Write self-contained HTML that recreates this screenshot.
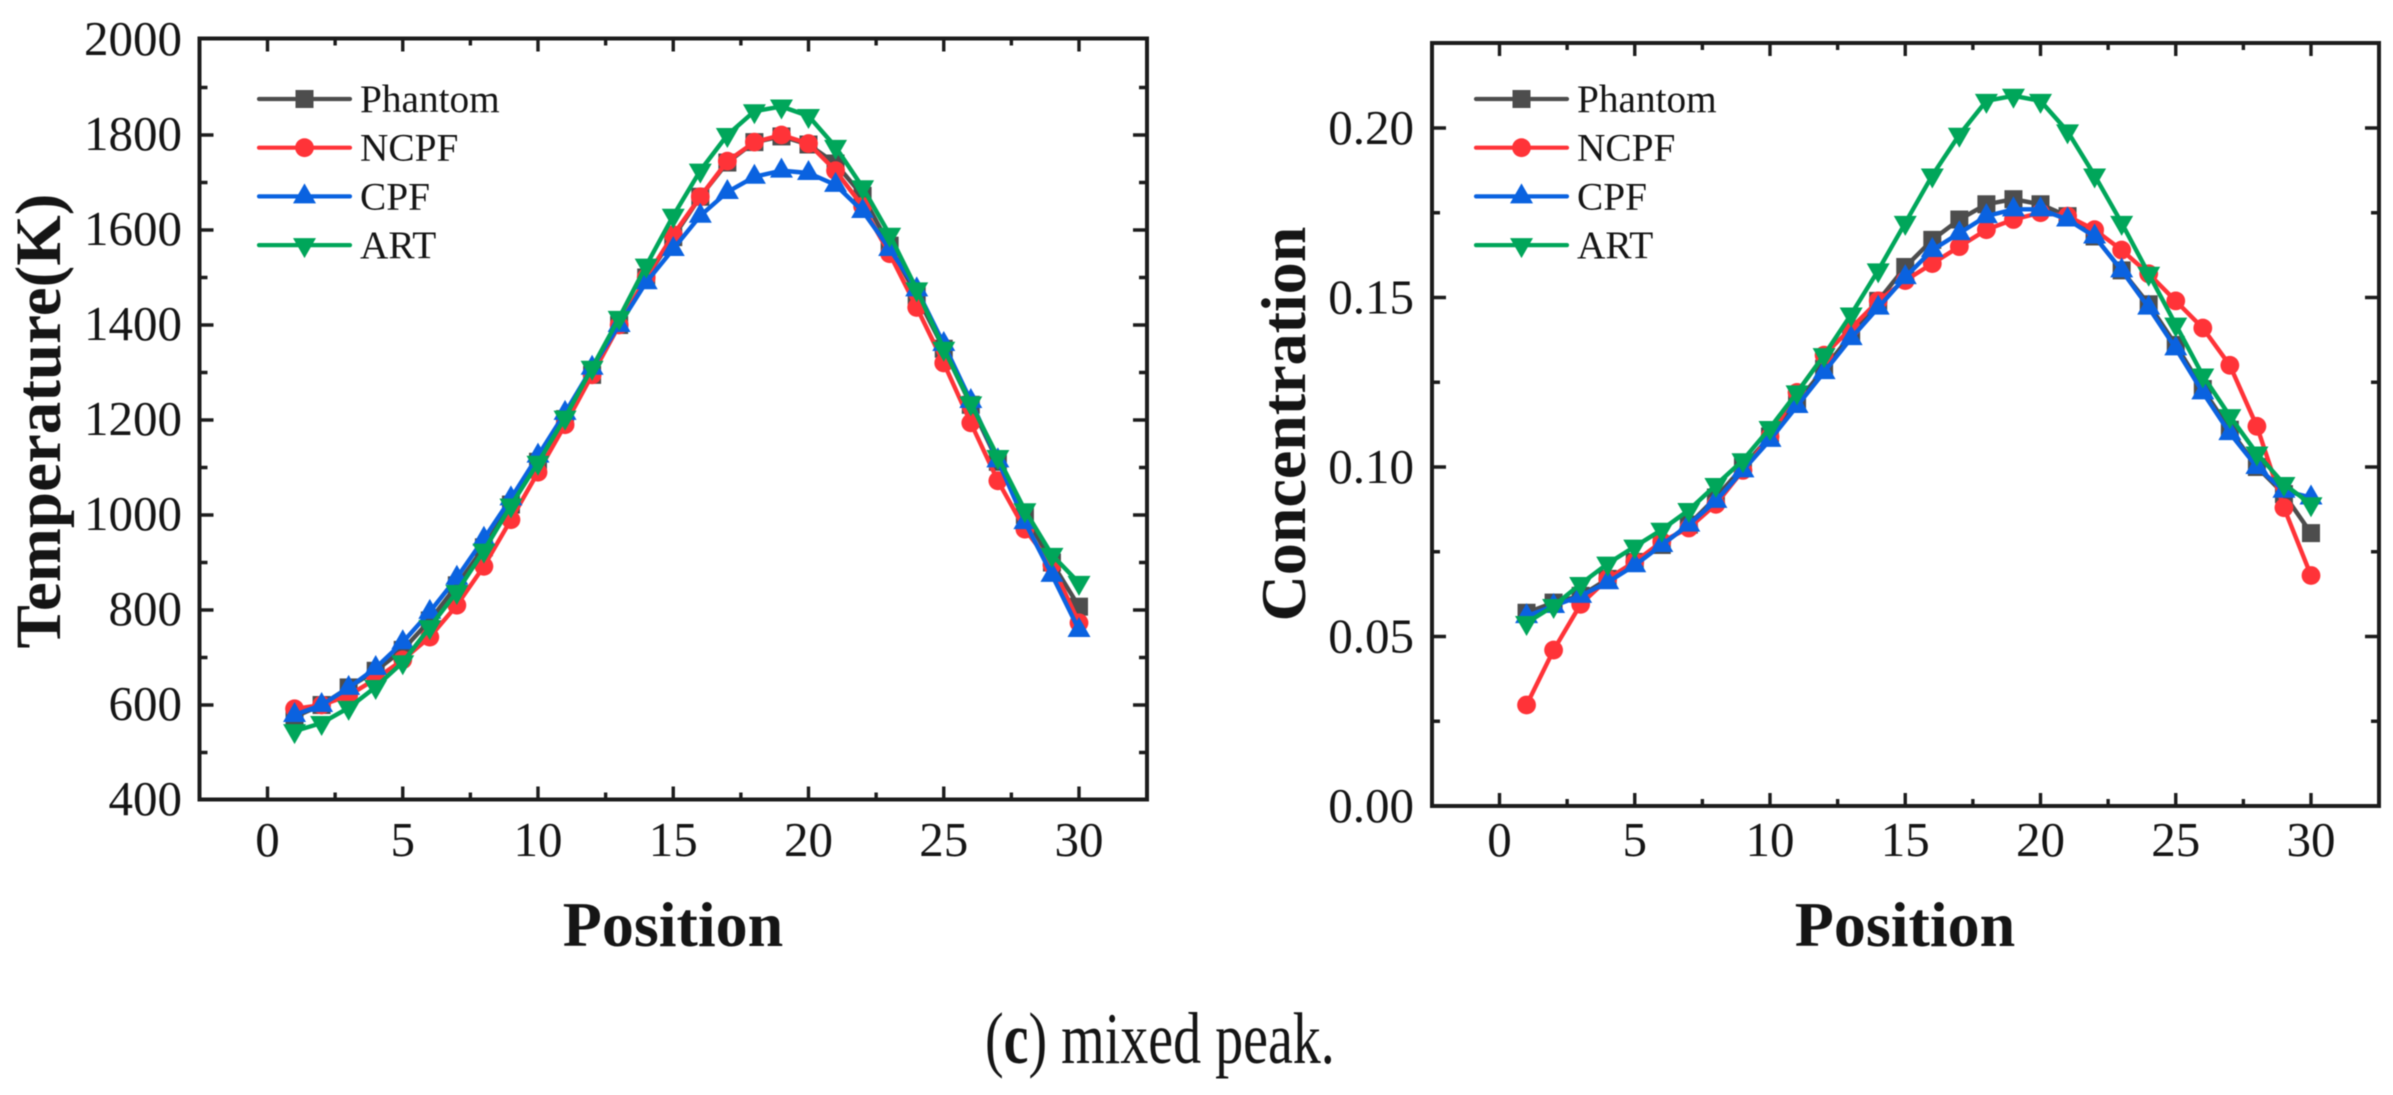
<!DOCTYPE html>
<html lang="en">
<head>
<meta charset="utf-8">
<title>Mixed peak: temperature and concentration by position</title>
<style>
  html, body { margin: 0; padding: 0; background: #fff; }
  body { width: 2393px; height: 1095px; overflow: hidden; }
  svg { display: block; filter: blur(0.6px); }
  text { font-family: "Liberation Serif", serif; fill: #151515; }
</style>
</head>
<body>
<svg id="figure" xmlns="http://www.w3.org/2000/svg" width="2393" height="1095" viewBox="0 0 2393 1095">
  <g id="chart-temperature"></g>
  <g id="chart-concentration"></g>
  <text transform="translate(985 1063) scale(1 1.3)" x="0" y="0" font-size="56">(<tspan font-weight="bold">c</tspan>) mixed peak.</text>
</svg>
<script>
const positions = [1,2,3,4,5,6,7,8,9,10,11,12,13,14,15,16,17,18,19,20,21,22,23,24,25,26,27,28,29,30];
const seriesNames = ["Phantom", "NCPF", "CPF", "ART"];

const tempPhantom = [575,600,637,672,716,778,852,932,1022,1112,1202,1295,1400,1500,1585,1670,1742,1785,1797,1780,1740,1672,1567,1462,1350,1232,1112,1000,900,807];
const tempNCPF = [592,600,620,655,695,743,810,892,990,1090,1190,1295,1400,1500,1590,1670,1745,1785,1800,1782,1725,1650,1550,1437,1320,1194,1072,970,895,773];
const tempCPF = [579,600,636,678,732,796,868,950,1035,1125,1215,1310,1400,1490,1560,1630,1680,1712,1725,1720,1695,1640,1560,1475,1360,1240,1115,985,874,758];
const tempART = [545,562,594,638,690,764,838,925,1020,1110,1205,1310,1415,1525,1630,1725,1800,1850,1860,1840,1775,1690,1590,1475,1350,1235,1122,1010,916,857];

const concPhantom = [0.057,0.060,0.062,0.067,0.072,0.077,0.083,0.091,0.100,0.109,0.119,0.129,0.139,0.149,0.159,0.167,0.173,0.1775,0.179,0.1775,0.174,0.168,0.158,0.148,0.136,0.123,0.111,0.100,0.092,0.0805];
const concNCPF = [0.0298,0.046,0.0595,0.067,0.072,0.078,0.082,0.089,0.099,0.109,0.122,0.133,0.141,0.149,0.155,0.160,0.165,0.170,0.173,0.175,0.174,0.170,0.164,0.157,0.149,0.141,0.130,0.112,0.088,0.068];
const concCPF = [0.056,0.059,0.062,0.066,0.071,0.077,0.083,0.090,0.099,0.108,0.118,0.128,0.138,0.147,0.156,0.164,0.169,0.174,0.176,0.176,0.173,0.168,0.158,0.147,0.135,0.122,0.110,0.100,0.093,0.091];
const concART = [0.054,0.059,0.0655,0.0715,0.0765,0.0815,0.0873,0.0947,0.102,0.1115,0.122,0.133,0.145,0.158,0.172,0.186,0.198,0.208,0.2095,0.208,0.199,0.186,0.172,0.157,0.142,0.127,0.115,0.104,0.095,0.089];

const xTickLabels = ["0","5","10","15","20","25","30"];
const tempTickLabels = ["400","600","800","1000","1200","1400","1600","1800","2000"];
const concTickLabels = ["0.00","0.05","0.10","0.15","0.20"];

const NS = "http://www.w3.org/2000/svg";
const COLORS = ["#4d4d4d", "#ff3338", "#0a62e0", "#00a65a"];

function mk(parent, tag, attrs, txt) {
  const el = document.createElementNS(NS, tag);
  for (const k in attrs) el.setAttribute(k, attrs[k]);
  if (txt !== undefined) el.textContent = txt;
  parent.appendChild(el);
  return el;
}

function drawMarker(parent, kind, cx, cy, color, label) {
  let el;
  if (kind === 0) {
    el = mk(parent, "rect", { x: cx - 9, y: cy - 9, width: 18, height: 18, fill: color });
  } else if (kind === 1) {
    el = mk(parent, "circle", { cx: cx, cy: cy, r: 9.4, fill: color });
  } else if (kind === 2) {
    el = mk(parent, "polygon", { points: [cx, cy - 13, cx + 11.5, cy + 7, cx - 11.5, cy + 7].join(","), fill: color });
  } else {
    el = mk(parent, "polygon", { points: [cx, cy + 13, cx + 11.5, cy - 7, cx - 11.5, cy - 7].join(","), fill: color });
  }
  
  
  return el;
}

function drawChart(cfg) {
  const root = document.getElementById(cfg.id);
  const { left, right, top, bottom } = cfg.box;
  const sx = function (v) { return cfg.x0 + cfg.xk * v; };
  const sy = function (v) { return cfg.y0 - cfg.yk * (v - cfg.yMin); };

  const axisGroup = mk(root, "g", { stroke: "#1c1c1c", "stroke-width": 3.4, fill: "none" });
  
  

  const frame = mk(axisGroup, "rect", { x: left, y: top, width: right - left, height: bottom - top, "stroke-width": 4 });
  
  

  // x ticks: every label is a major tick, with a minor tick halfway between
  xTickLabels.forEach(function (lab, i) {
    const v = Number(lab);
    const px = sx(v);
    const major = mk(axisGroup, "path", { d: "M" + px + " " + bottom + "v-13M" + px + " " + top + "v13" });
    
    
    const t = mk(root, "text", { x: px, y: cfg.xLabelY, "font-size": 49, "text-anchor": "middle" }, lab);
    
    
    if (i < xTickLabels.length - 1) {
      const mx = sx((v + Number(xTickLabels[i + 1])) / 2);
      const minor = mk(axisGroup, "path", { d: "M" + mx + " " + bottom + "v-7M" + mx + " " + top + "v7" });
      
      
    }
  });

  // y ticks
  cfg.yLabels.forEach(function (lab, i) {
    const v = Number(lab);
    const py = sy(v);
    const inFrame = py > top + 3 && py < bottom - 3;
    if (inFrame) {
      const major = mk(axisGroup, "path", { d: "M" + left + " " + py + "h14M" + right + " " + py + "h-14" });
      
      
    }
    const t = mk(root, "text", { x: cfg.yLabelX, y: py + cfg.yLabelDy, "font-size": 49, "text-anchor": "end" }, lab);
    
    
    if (i < cfg.yLabels.length - 1) {
      const my = sy((v + Number(cfg.yLabels[i + 1])) / 2);
      const minor = mk(axisGroup, "path", { d: "M" + left + " " + my + "h8M" + right + " " + my + "h-8" });
      
      
    }
  });

  // axis titles
  const xt = mk(root, "text", { x: cfg.xTitleX, y: 946, "font-size": 64, "font-weight": "bold", "text-anchor": "middle" }, "Position");
  
  
  const yt = mk(root, "text", {
    x: 0, y: 0, "font-size": cfg.yTitleSize, "font-weight": "bold", "text-anchor": "middle",
    transform: "translate(" + cfg.yTitleX + " " + cfg.yTitleY + ") rotate(-90)"
  }, cfg.yTitle);
  
  

  // series
  cfg.series.forEach(function (vals, s) {
    const g = mk(root, "g", {});
    
    
    const pts = vals.map(function (v, i) { return sx(positions[i]) + "," + sy(v); }).join(" ");
    const line = mk(g, "polyline", { points: pts, fill: "none", stroke: COLORS[s], "stroke-width": 4.4, "stroke-linejoin": "round" });
    
    
    vals.forEach(function (v, i) {
      drawMarker(g, s, sx(positions[i]), sy(v), COLORS[s], 'data-point');
    });
  });

  // legend
  const legend = mk(root, "g", {});
  
  
  seriesNames.forEach(function (name, s) {
    const ly = 99 + s * 48.7;
    const entry = mk(legend, "g", {});
    
    
    const l = mk(entry, "line", { x1: cfg.legendX, x2: cfg.legendX + 91, y1: ly, y2: ly, stroke: COLORS[s], "stroke-width": 4.2, "stroke-linecap": "round" });
    
    
    drawMarker(entry, s, cfg.legendX + 45.5, ly, COLORS[s], 'legend-marker');
    const t = mk(entry, "text", { x: cfg.legendX + 101, y: ly + 13, "font-size": 39.3 }, name);
    
    
  });
}

drawChart({
  id: "chart-temperature",
  box: { left: 199.5, right: 1147, top: 38.5, bottom: 799.5 },
  x0: 267.5, xk: 27.05,
  y0: 800, yk: 0.475, yMin: 400,
  yLabels: tempTickLabels,
  yLabelX: 182, yLabelDy: 15,
  xLabelY: 856,
  xTitleX: 673,
  yTitle: "Temperature(K)", yTitleX: 60, yTitleY: 421, yTitleSize: 65,
  legendX: 259,
  series: [tempPhantom, tempNCPF, tempCPF, tempART]
});

drawChart({
  id: "chart-concentration",
  box: { left: 1432, right: 2379, top: 43, bottom: 806 },
  x0: 1499.5, xk: 27.05,
  y0: 806, yk: 3390, yMin: 0,
  yLabels: concTickLabels,
  yLabelX: 1414, yLabelDy: 16,
  xLabelY: 856,
  xTitleX: 1905,
  yTitle: "Concentration", yTitleX: 1305, yTitleY: 424, yTitleSize: 64,
  legendX: 1476,
  series: [concPhantom, concNCPF, concCPF, concART]
});
</script>
</body>
</html>
